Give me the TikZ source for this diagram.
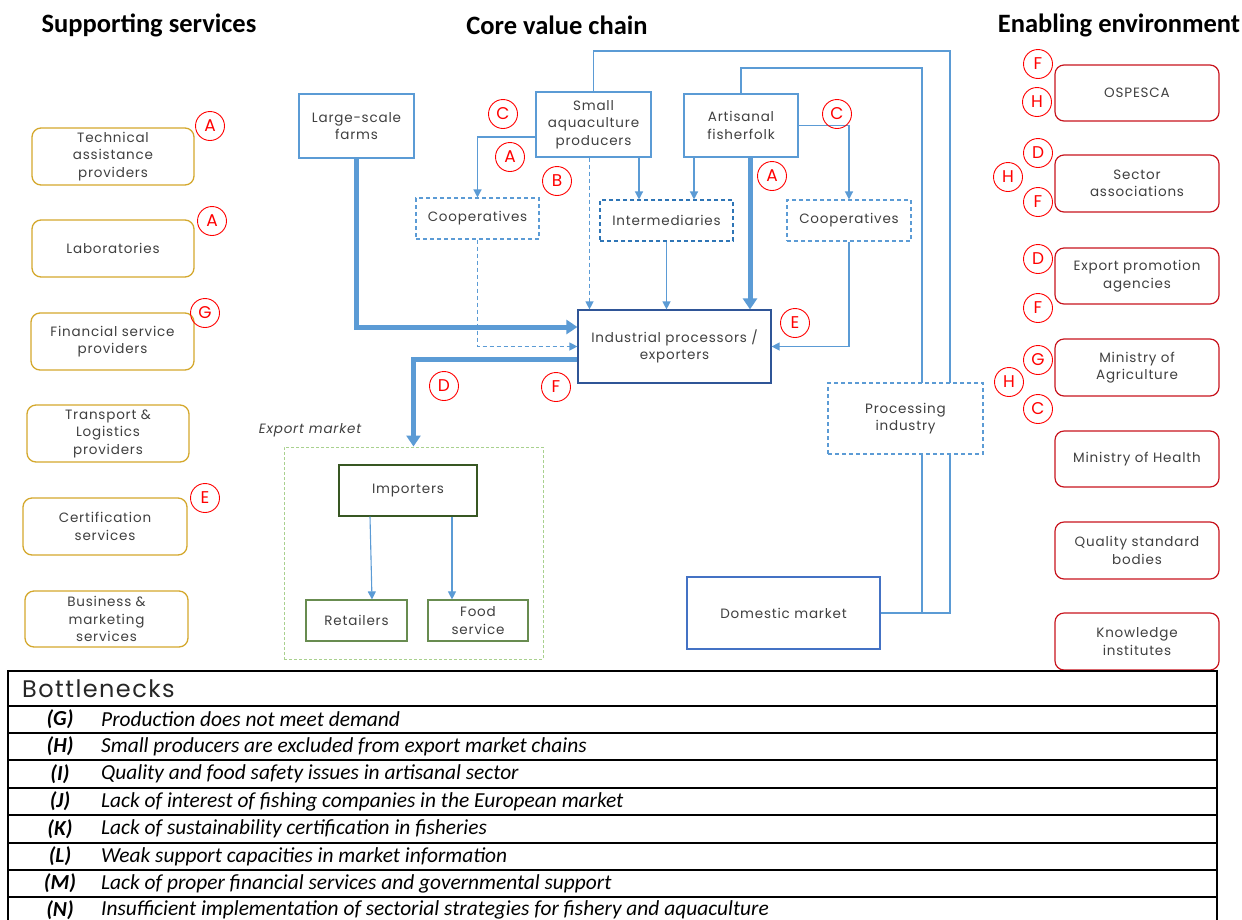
\documentclass[tikz,border=0pt]{standalone}
\usepackage{fontspec}
\setmainfont{Poppins}[LetterSpace=6]
\newfontfamily\calibri{Carlito}
\usetikzlibrary{arrows.meta,calc}

\definecolor{flowblue}{RGB}{91,155,213}
\definecolor{darkblue}{RGB}{47,85,151}
\definecolor{midblue}{RGB}{68,114,196}
\definecolor{interblue}{RGB}{46,117,182}
\definecolor{gold}{RGB}{212,168,45}
\definecolor{boxred}{RGB}{200,20,30}
\definecolor{tagred}{RGB}{255,0,0}
\definecolor{lgreen}{RGB}{169,209,142}
\definecolor{dgreen}{RGB}{56,87,35}
\definecolor{mgreen}{RGB}{104,140,80}
\definecolor{txt}{RGB}{64,64,64}

\begin{document}
\begin{tikzpicture}[x=1pt,y=-1pt,
  every node/.style={font=\fontsize{13.5}{17.5}\selectfont, text=txt, align=center, inner sep=0pt},
  gbox/.style={draw=gold, line width=1.3pt, rounded corners=9pt, fill=white, minimum width=162pt, minimum height=57pt},
  rbox/.style={draw=boxred, line width=1.2pt, rounded corners=9pt, fill=white, minimum width=164pt, minimum height=56pt},
  bbox/.style={draw=flowblue, line width=1.2pt, fill=white},
  dbox/.style={draw=flowblue, line width=1.1pt, dash pattern=on 4pt off 3pt, fill=white},
  gnbox/.style={line width=1.2pt, fill=white},
  lettag/.style={circle, draw=tagred, line width=0.9pt, minimum size=29pt, text=tagred, font=\fontsize{17}{17}\selectfont},
  title/.style={font=\calibri\bfseries\fontsize{26.5}{30}\selectfont, text=black},
  flow/.style={draw=flowblue, line width=1.3pt},
  arr/.style={-{Triangle[length=8pt,width=8pt]}},
  bigflow/.style={draw=flowblue, line width=5pt, -{Triangle[length=11pt,width=14pt]}},
  rowtxt/.style={font=\calibri\itshape\fontsize{21.4}{22}\selectfont, text=black, anchor=west},
  rowlab/.style={font=\calibri\bfseries\itshape\fontsize{21.4}{22}\selectfont, text=black}
]
\fill[white] (0,0) rectangle (1242,919);
\useasboundingbox (0,0) rectangle (1242,919);

% column titles
\node[title] (t1) at (149,25) {Supporting services};
\node[title] (t2) at (557,25) {Core value chain};
\node[title] (t3) at (1119,25) {Enabling environment};

% supporting services
\node[gbox] (tap) at (113,156.5) {Technical\\assistance\\providers};
\node[gbox] (lab) at (113,248.5) {Laboratories};
\node[gbox, minimum width=163pt] (fin) at (112.5,341.5) {Financial service\\providers};
\node[gbox] (trn) at (108,433.5) {Transport \&\\Logistics\\providers};
\node[gbox, minimum width=164pt] (cer) at (105,526.5) {Certification\\services};
\node[gbox, minimum width=163pt, minimum height=56pt] (bus) at (106.5,619) {Business \&\\marketing\\services};

% enabling environment
\node[rbox] (osp) at (1137,93) {OSPESCA};
\node[rbox, minimum height=57pt] (sec) at (1137,183.5) {Sector\\associations};
\node[rbox] (epa) at (1137,276) {Export promotion\\agencies};
\node[rbox, minimum height=57pt] (moa) at (1137,367.5) {Ministry of\\Agriculture};
\node[rbox] (moh) at (1137,459) {Ministry of Health};
\node[rbox, minimum height=57pt] (qsb) at (1137,550.5) {Quality standard\\bodies};
\node[rbox, minimum height=57pt] (kin) at (1137,641.5) {Knowledge\\institutes};

% core value chain
\node[bbox, minimum width=115pt, minimum height=64pt] (lsf) at (356.5,126) {Large-scale\\farms};
\node[bbox, minimum width=115pt, minimum height=65pt] (sap) at (593.5,124.5) {Small\\aquaculture\\producers};
\node[bbox, minimum width=114pt, minimum height=63pt] (art) at (741,125.5) {Artisanal\\fisherfolk};
\node[dbox, minimum width=123pt, minimum height=41pt] (coopL) at (477.5,218.5) {Cooperatives};
\node[dbox, draw=interblue, minimum width=133pt, minimum height=41pt] (inter) at (666.5,220.5) {Intermediaries};
\node[dbox, minimum width=124pt, minimum height=41pt] (coopR) at (849,220.5) {Cooperatives};
\node[bbox, draw=darkblue, minimum width=193pt, minimum height=73pt] (ind) at (674.5,346.5) {Industrial processors /\\exporters};
\node[bbox, draw=midblue, minimum width=193pt, minimum height=72pt] (dom) at (783.5,613) {Domestic market};

% export market
\node[draw=lgreen, line width=1pt, dash pattern=on 3pt off 2pt, minimum width=259pt, minimum height=212pt] (expbox) at (413.5,553) {};
\node[font=\itshape\fontsize{13.5}{15}\selectfont] (explab) at (310,430) {Export market};
\node[gnbox, draw=dgreen, minimum width=138pt, minimum height=51pt] (imp) at (408,490.5) {Importers};
\node[gnbox, draw=mgreen, minimum width=101pt, minimum height=41pt] (ret) at (356.5,620.5) {Retailers};
\node[gnbox, draw=mgreen, minimum width=100pt, minimum height=41pt] (food) at (478,620.5) {Food\\service};

% links towards the domestic market (running behind the processing industry box)
\coordinate (topA) at (950,51);
\coordinate (topB) at (922,68);
\draw[flow] (sap.north) |- (topA) |- (dom.east);
\draw[flow] (art.north) |- (topB) -- (topB |- dom.east);
\node[dbox, minimum width=155pt, minimum height=71pt] (proc) at (905.5,418.5) {Processing\\industry};

% flows inside the chain
\draw[bigflow] (lsf.south) |- ([yshift=19.5pt]ind.west);
\draw[flow, arr] ([yshift=-12.5pt]sap.west) -| (coopL.north);
\draw[flow, arr, dash pattern=on 4pt off 3pt] (coopL.south) |- (ind.west);
\draw[flow, arr, dash pattern=on 4pt off 3pt] ([xshift=-4pt]sap.south) -- ([xshift=-4pt]sap.south |- ind.north);
\draw[flow, arr] ([xshift=45.5pt]sap.south) -- ([xshift=45.5pt]sap.south |- inter.north);
\draw[flow, arr] ([xshift=-47pt]art.south) -- ([xshift=-47pt]art.south |- inter.north);
\draw[flow, arr] (inter.south) -- (inter.south |- ind.north);
\draw[bigflow] ([xshift=9pt]art.south) -- ([xshift=9pt]art.south |- ind.north);
\draw[flow, arr] (art.east) -| (coopR.north);
\draw[flow, arr] (coopR.south) |- (ind.east);
\draw[bigflow] ([yshift=-12.5pt]ind.west) -| (expbox.north);
\draw[flow, arr, line width=1.1pt] ([xshift=-38pt]imp.south) -- ([xshift=15.5pt]ret.north);
\draw[flow, arr, line width=1.1pt] ([xshift=44pt]imp.south) -- ([xshift=-26pt]food.north);

% bottleneck tags
\node[lettag] (a1) at (210,126) {A};
\node[lettag] (a2) at (212,221) {A};
\node[lettag] (g1) at (205,313) {G};
\node[lettag] (e1) at (205,498) {E};
\node[lettag] (c1) at (503,114) {C};
\node[lettag] (a3) at (510,157) {A};
\node[lettag] (b1) at (557,181) {B};
\node[lettag] (c2) at (837,114) {C};
\node[lettag] (a4) at (772,176) {A};
\node[lettag] (e2) at (795,323) {E};
\node[lettag] (d1) at (444,386) {D};
\node[lettag] (f1) at (556,387) {F};
\node[lettag] (f2) at (1038,64) {F};
\node[lettag] (h1) at (1037,102) {H};
\node[lettag] (d2) at (1038,153) {D};
\node[lettag] (h2) at (1008,177) {H};
\node[lettag] (f3) at (1038,202) {F};
\node[lettag] (d3) at (1038,259) {D};
\node[lettag] (f4) at (1038,308) {F};
\node[lettag] (g2) at (1038,360) {G};
\node[lettag] (h3) at (1009,382) {H};
\node[lettag] (c3) at (1038,409) {C};

% bottlenecks table
\draw[black, line width=2pt] (8,671) rectangle (1217,940);
\foreach \yy in {706,733,760,788,815,843,870,897}
  \draw[black, line width=2pt] (8,\yy) -- (1217,\yy);
\node[anchor=west, font=\fontsize{24}{26}\selectfont, text=black!85] (bhead) at (22,689) {Bottlenecks};
\node[rowlab] (lg) at (60,719.5) {(G)};
\node[rowtxt] (rg) at (101,719.5) {Production does not meet demand};
\node[rowlab] (lh) at (60,746.5) {(H)};
\node[rowtxt] (rh) at (101,746.5) {Small producers are excluded from export market chains};
\node[rowlab] (li) at (60,774) {(I)};
\node[rowtxt] (ri) at (101,774) {Quality and food safety issues in artisanal sector};
\node[rowlab] (lj) at (60,801.5) {(J)};
\node[rowtxt] (rj) at (101,801.5) {Lack of interest of fishing companies in the European market};
\node[rowlab] (lk) at (60,829) {(K)};
\node[rowtxt] (rk) at (101,829) {Lack of sustainability certification in fisheries};
\node[rowlab] (ll) at (60,856.5) {(L)};
\node[rowtxt] (rl) at (101,856.5) {Weak support capacities in market information};
\node[rowlab] (lm) at (60,883.5) {(M)};
\node[rowtxt] (rm) at (101,883.5) {Lack of proper financial services and governmental support};
\node[rowlab] (ln) at (60,910) {(N)};
\node[rowtxt] (rn) at (101,910) {Insufficient implementation of sectorial strategies for fishery and aquaculture};
\end{tikzpicture}
\end{document}
